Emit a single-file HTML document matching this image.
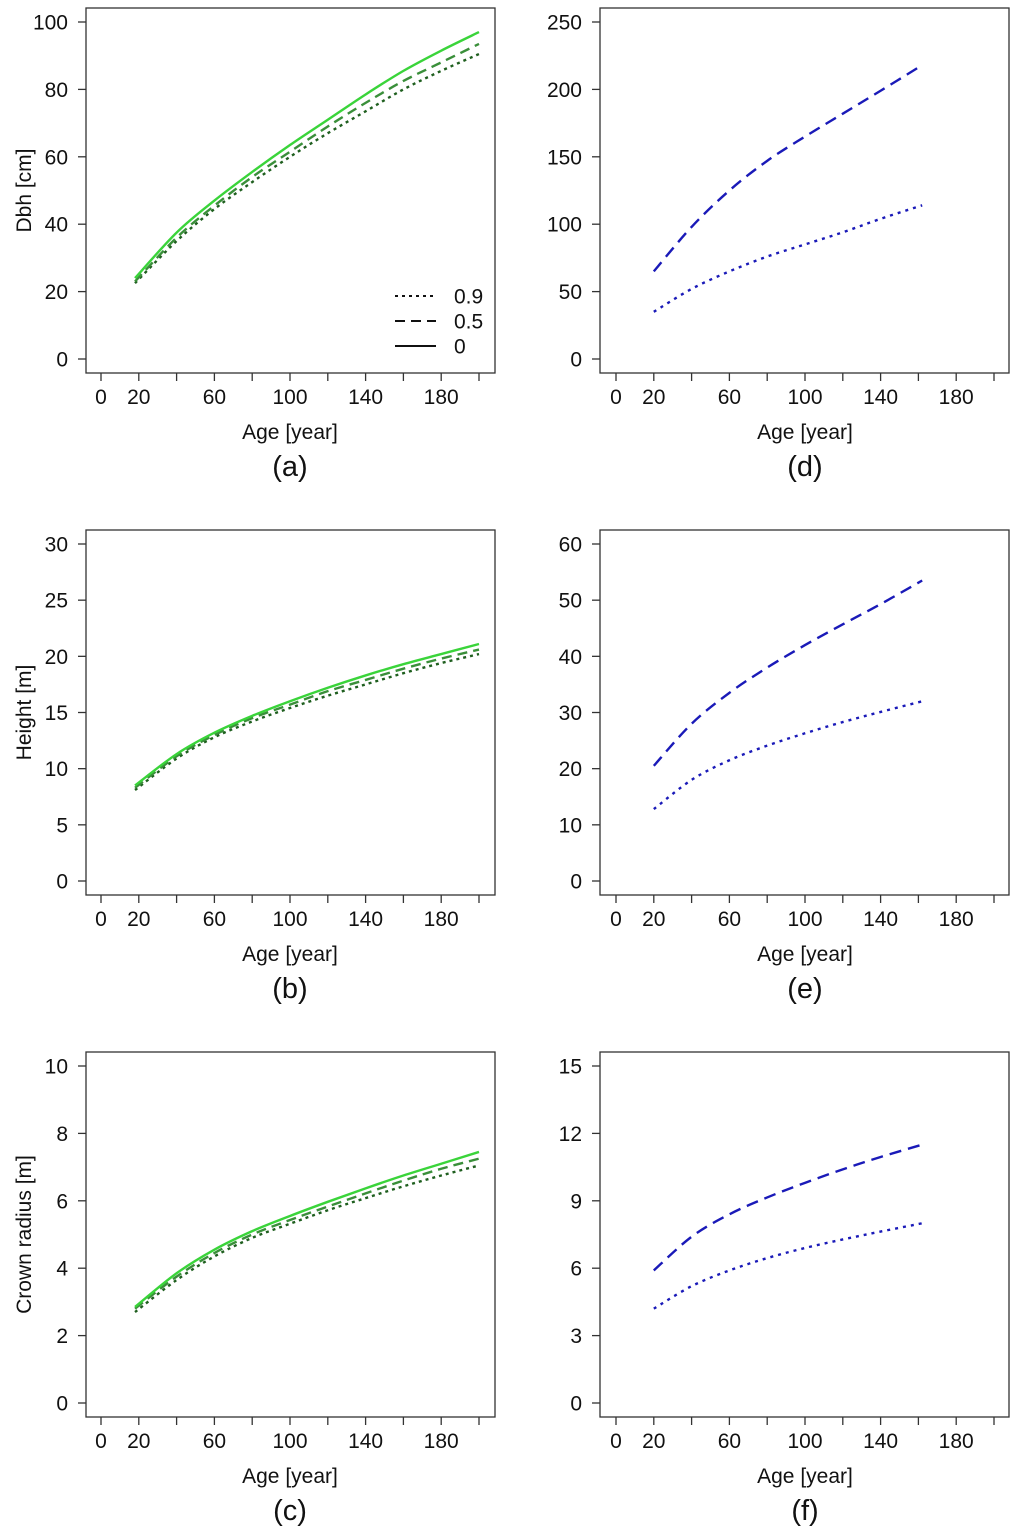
<!DOCTYPE html>
<html><head><meta charset="utf-8"><style>
html,body{margin:0;padding:0;background:#fff}
svg{display:block}
text{font-family:"Liberation Sans",Arial,sans-serif;fill:#111}
</style></head><body>
<svg id="fig" width="1024" height="1538" viewBox="0 0 1024 1538" xmlns="http://www.w3.org/2000/svg"></svg>
<script>
const agesLeft=[18,40,60,80,100,120,140,160,180,200];
const agesRight=[20,40,60,80,100,120,140,162];
const aSolid=[24,37.5,47,55.5,63.5,71,78.5,85.5,91.5,97];
const aDashed=[23,36,45.5,54,61.5,69,76,82.5,88,93.5];
const aDotted=[22.5,35,44.5,52.5,60,67,73.5,80,85.5,90.5];
const bSolid=[8.5,11.3,13.2,14.7,16.0,17.2,18.3,19.3,20.2,21.1];
const bDashed=[8.3,11.1,13.0,14.5,15.7,16.9,17.9,18.9,19.8,20.6];
const bDotted=[8.1,10.9,12.8,14.2,15.4,16.5,17.5,18.5,19.4,20.2];
const cSolid=[2.85,3.85,4.55,5.1,5.55,5.97,6.37,6.75,7.1,7.45];
const cDashed=[2.8,3.75,4.45,5.0,5.43,5.83,6.22,6.6,6.95,7.25];
const cDotted=[2.7,3.65,4.35,4.9,5.32,5.72,6.08,6.43,6.75,7.05];
const dDashed=[65,98,125,147,165,182,199,218];
const dDotted=[35,52,65,76,85,94,104,114];
const eDashed=[20.5,28,33.5,38,42,45.7,49.3,53.5];
const eDotted=[12.8,18,21.5,24.1,26.3,28.3,30.1,32];
const fDashed=[5.9,7.4,8.4,9.15,9.8,10.4,10.95,11.5];
const fDotted=[4.2,5.2,5.9,6.45,6.9,7.28,7.63,8.0];
const xTickLabels=[0,20,60,100,140,180];
const aTicks=[0,20,40,60,80,100];
const bTicks=[0,5,10,15,20,25,30];
const cTicks=[0,2,4,6,8,10];
const dTicks=[0,50,100,150,200,250];
const eTicks=[0,10,20,30,40,50,60];
const fTicks=[0,3,6,9,12,15];

const NS="http://www.w3.org/2000/svg";
const svg=document.getElementById('fig');
function mk(tag,attrs,parent){const e=document.createElementNS(NS,tag);for(const k in attrs)e.setAttribute(k,attrs[k]);(parent||svg).appendChild(e);return e;}
function smooth(pts){let d=`M${pts[0][0]},${pts[0][1]}`;for(let i=0;i<pts.length-1;i++){const p0=pts[i-1]||pts[i],p1=pts[i],p2=pts[i+1],p3=pts[i+2]||p2;
d+=` C${p1[0]+(p2[0]-p0[0])/6},${p1[1]+(p2[1]-p0[1])/6} ${p2[0]-(p3[0]-p1[0])/6},${p2[1]-(p3[1]-p1[1])/6} ${p2[0]},${p2[1]}`;}return d;}

const GREEN_SOLID='#3ad43a',GREEN_DASH='#3a8f3a',GREEN_DOT='#1f5f1f',BLUE='#1a1ab8';
function panel(o){
  const g=mk('g',{});
  
  
  const top=o.top, bx0=o.left, bx1=o.left+409, by1=top+365;
  const y0=top+351, yTop=top+14;
  const ymax=o.ticks[o.ticks.length-1];
  const sx=v=>o.x0+(v/200)*378;
  const sy=v=>y0-(v/ymax)*(y0-yTop);
  const box=mk('rect',{x:bx0,y:top,width:bx1-bx0,height:by1-top,fill:'none',stroke:'#333','stroke-width':1.3},g);
  
  o.ticks.forEach(t=>{
    mk('line',{x1:bx0-8,x2:bx0,y1:sy(t),y2:sy(t),stroke:'#333','stroke-width':1.3},g);
    const tx=mk('text',{x:bx0-18,y:sy(t)+7.5,'text-anchor':'end','font-size':21},g);tx.textContent=t;
    
  });
  for(let v=0;v<=200;v+=20) mk('line',{x1:sx(v),x2:sx(v),y1:by1,y2:by1+8,stroke:'#333','stroke-width':1.3},g);
  xTickLabels.forEach(v=>{const tx=mk('text',{x:sx(v),y:by1+31,'text-anchor':'middle','font-size':21},g);tx.textContent=v;
    });
  const xt=mk('text',{x:sx(100),y:by1+66,'text-anchor':'middle','font-size':21},g);xt.textContent='Age [year]';
  
  const cap=mk('text',{x:sx(100),y:by1+103,'text-anchor':'middle','font-size':29},g);cap.textContent='('+o.id+')';
  
  if(o.ylabel){const cy=(top+by1)/2;const yl=mk('text',{x:31,y:cy,'text-anchor':'middle','font-size':21,transform:`rotate(-90 31 ${cy})`},g);yl.textContent=o.ylabel;
    }
  o.series.forEach(s=>{
    const pts=o.ages.map((a,i)=>[sx(a),sy(s.vals[i])]);
    const p=mk('path',{d:smooth(pts),fill:'none',stroke:s.color,'stroke-width':2.4,'stroke-dasharray':s.dash||'none'},g);
    
  });
  return g;
}
const L=86,R=600,LX0=101,RX0=616;
panel({id:'a',top:8,left:L,x0:LX0,ticks:aTicks,ylabel:'Dbh [cm]',ages:agesLeft,series:[
 {name:'line-0.9',vals:aDotted,color:GREEN_DOT,dash:'3 4'},{name:'line-0.5',vals:aDashed,color:GREEN_DASH,dash:'10 6'},{name:'line-0',vals:aSolid,color:GREEN_SOLID}]});
panel({id:'b',top:530,left:L,x0:LX0,ticks:bTicks,ylabel:'Height [m]',ages:agesLeft,series:[
 {name:'line-0.9',vals:bDotted,color:GREEN_DOT,dash:'3 4'},{name:'line-0.5',vals:bDashed,color:GREEN_DASH,dash:'10 6'},{name:'line-0',vals:bSolid,color:GREEN_SOLID}]});
panel({id:'c',top:1052,left:L,x0:LX0,ticks:cTicks,ylabel:'Crown radius [m]',ages:agesLeft,series:[
 {name:'line-0.9',vals:cDotted,color:GREEN_DOT,dash:'3 4'},{name:'line-0.5',vals:cDashed,color:GREEN_DASH,dash:'10 6'},{name:'line-0',vals:cSolid,color:GREEN_SOLID}]});
panel({id:'d',top:8,left:R,x0:RX0,ticks:dTicks,ages:agesRight,series:[
 {name:'dotted-line',vals:dDotted,color:BLUE,dash:'3 5'},{name:'dashed-line',vals:dDashed,color:BLUE,dash:'12 7'}]});
panel({id:'e',top:530,left:R,x0:RX0,ticks:eTicks,ages:agesRight,series:[
 {name:'dotted-line',vals:eDotted,color:BLUE,dash:'3 5'},{name:'dashed-line',vals:eDashed,color:BLUE,dash:'12 7'}]});
panel({id:'f',top:1052,left:R,x0:RX0,ticks:fTicks,ages:agesRight,series:[
 {name:'dotted-line',vals:fDotted,color:BLUE,dash:'3 5'},{name:'dashed-line',vals:fDashed,color:BLUE,dash:'12 7'}]});

const lg=mk('g',{});


[['0.9','3 4',296],['0.5','10 6',321],['0','none',346]].forEach(([lab,dash,y])=>{
  mk('line',{x1:395,x2:436,y1:y,y2:y,stroke:'#111','stroke-width':2,'stroke-dasharray':dash},lg);
  const t=mk('text',{x:454,y:y+7.5,'font-size':21},lg);t.textContent=lab;
  
  
});
</script>
</body></html>
